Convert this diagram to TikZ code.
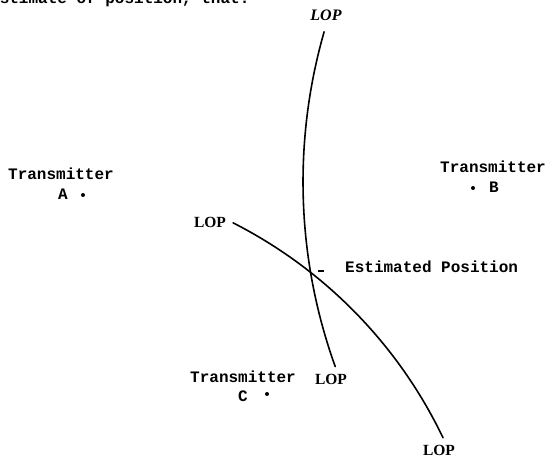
\documentclass[tikz,border=0pt]{standalone}
\usepackage{fontspec}
\setmainfont{Liberation Serif}
\newfontfamily\typew{Liberation Mono}
\begin{document}
\begin{tikzpicture}[x=1pt,y=-1pt,
  tw/.style={font=\typew\bfseries\fontsize{16}{16}\selectfont, inner sep=0pt, anchor=base west},
  lop/.style={font=\bfseries\fontsize{15.5}{15.5}\selectfont, inner sep=0pt},
  lopline/.style={line width=1.6pt, line cap=round},
  txdot/.style={circle, fill=black, inner sep=0pt, minimum size=4pt}]
\useasboundingbox (0,0) rectangle (551,457);
% fragment of running text cut at the top edge
\node[tw] (frag) at (-10,3.5) {estimate of position, that:};
% transmitters
\node[tw] (tA) at (8,180) {Transmitter};
\node[tw] (lA) at (58,200) {A};
\node[txdot] (dA) at (83,195) {};
\node[tw] (tB) at (440,173) {Transmitter};
\node[txdot] (dB) at (473,188) {};
\node[tw] (lB) at (489,193) {B};
\node[tw] (tC) at (190,382) {Transmitter};
\node[tw] (lC) at (238,401) {C};
\node[txdot] (dC) at (267,394) {};
% lines of position (circular arcs)
\draw[lopline] plot[domain=196:160.2, samples=80] ({848+545*cos(\x)}, {182+545*sin(\x)});
\draw[lopline] plot[domain=-63.05:-25.6, samples=80] ({21+468*cos(\x)}, {640+468*sin(\x)});
% labels
\node[lop, font=\bfseries\itshape\fontsize{16}{16}\selectfont] (L1) at (326,15) {LOP};
\node[lop] (L2) at (210,222) {LOP};
\node[lop] (L3) at (331,379) {LOP};
\node[lop] (L4) at (439,450) {LOP};
% estimated position
\fill (318,269.8) rectangle (323.5,272.2);
\node[tw] (ep) at (345,272) {Estimated Position};
\end{tikzpicture}
\end{document}
